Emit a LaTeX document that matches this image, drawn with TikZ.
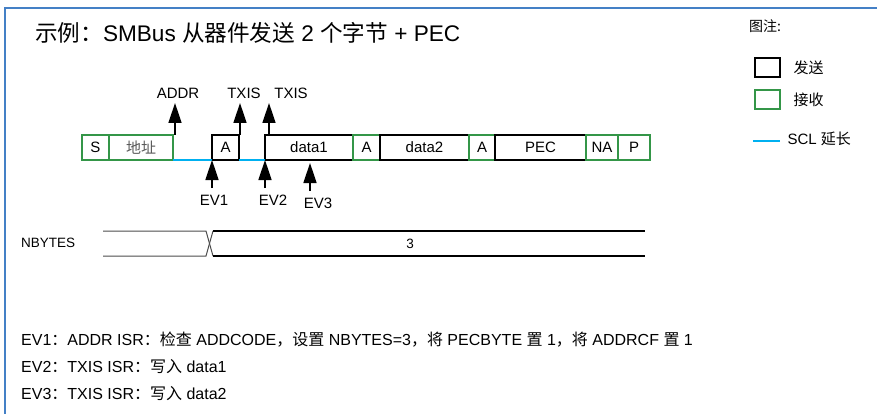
\documentclass[tikz,border=0pt]{standalone}
\usepackage{fontspec}
\setmainfont{Liberation Sans}
\newfontfamily\cjk{Noto Sans CJK SC}
\usetikzlibrary{positioning,arrows.meta}
\definecolor{rxgreen}{RGB}{52,150,72}
\definecolor{sclblue}{RGB}{0,176,240}
\definecolor{frameblue}{RGB}{68,128,198}
\begin{document}
\begin{tikzpicture}[
    x=1pt, y=1pt,
    font=\fontsize{15}{18}\selectfont,
    txbox/.style={rectangle, draw=black, line width=2pt, minimum height=25pt, outer sep=0pt, inner sep=0pt},
    rxbox/.style={rectangle, draw=rxgreen, line width=1.5pt, minimum height=25pt, outer sep=0pt, inner sep=0pt},
    stretch/.style={draw=sclblue, line width=1.5pt},
    sigarrow/.style={-{Triangle[width=13pt,length=20pt]}, line width=1.5pt},
    lbl/.style={inner sep=1pt},
    note/.style={anchor=west, inner sep=0pt, font=\fontsize{16}{18}\selectfont}
]
    \useasboundingbox (0,0) rectangle (877,-414);
    \draw[frameblue, line width=2pt] (5,-414) -- (5,-8) -- (877,-8);

    \node[anchor=west, inner sep=0pt, font=\fontsize{22.6}{26}\selectfont] (title) at (35,-33)
        {{\cjk 示例：}SMBus {\cjk 从器件发送} 2 {\cjk 个字节} + PEC};

    % frame on the bus
    \node[rxbox, minimum width=27pt, anchor=north west] (start) at (82,-135) {S};
    \node[rxbox, minimum width=64pt, right=0pt of start, text=black!65] (addrbox) {\cjk 地址};
    \node[txbox, minimum width=27pt, right=39pt of addrbox] (ack1) {A};
    \node[txbox, minimum width=88pt, right=26pt of ack1] (data1) {data1};
    \node[rxbox, minimum width=27pt, right=0pt of data1] (ack2) {A};
    \node[txbox, minimum width=89pt, right=0pt of ack2] (data2) {data2};
    \node[rxbox, minimum width=26pt, right=0pt of data2] (ack3) {A};
    \node[txbox, minimum width=91pt, right=0pt of ack3] (pec) {PEC};
    \node[rxbox, minimum width=32pt, right=0pt of pec] (nack) {NA};
    \node[rxbox, minimum width=32pt, right=0pt of nack] (stop) {P};

    \draw[stretch] (addrbox.south east) -- (ack1.south west);
    \draw[stretch] (ack1.south east) -- (data1.south west);

    % interrupts above
    \coordinate (addrtip) at (175,-103);
    \coordinate (txistip1) at (240,-103);
    \coordinate (txistip2) at (269,-103);
    \draw[sigarrow] (addrtip |- addrbox.north) -- (addrtip);
    \draw[sigarrow] (txistip1 |- ack1.north) -- (txistip1);
    \draw[sigarrow] (txistip2 |- data1.north) -- (txistip2);
    \node[lbl, anchor=south] (addr) at (178,-100) {ADDR};
    \node[lbl, anchor=south] (txis1) at (244,-100) {TXIS};
    \node[lbl, anchor=south] (txis2) at (291,-100) {TXIS};

    % events below
    \coordinate (ev1base) at (212,-188);
    \coordinate (ev2base) at (265,-188);
    \coordinate (ev3base) at (310,-191);
    \coordinate (ev3tip) at (310,-163);
    \draw[sigarrow] (ev1base) -- (ack1.south west);
    \draw[sigarrow] (ev2base) -- (data1.south west);
    \draw[sigarrow] (ev3base) -- (ev3tip);
    \node[lbl, anchor=north] (ev1) at (214,-194) {EV1};
    \node[lbl, anchor=north] (ev2) at (273,-194) {EV2};
    \node[lbl, anchor=north] (ev3) at (318,-197) {EV3};

    % NBYTES register
    \node[anchor=west, inner sep=0pt, font=\fontsize{13.5}{16}\selectfont] (nbytes) at (21,-243) {NBYTES};
    \draw[black!70, line width=1pt] (103,-231) -- (206,-231) -- (213,-256);
    \draw[black!70, line width=1pt] (103,-256) -- (206,-256) -- (213,-231);
    \draw[line width=1.6pt] (213,-231) -- (645,-231);
    \draw[line width=1.6pt] (213,-256) -- (645,-256);
    \node[font=\fontsize{13.5}{16}\selectfont] (nbval) at (410,-244) {3};

    % event notes
    \node[note] (note1) at (21,-340)
        {EV1{\cjk ：}ADDR ISR{\cjk ：检查} ADDCODE{\cjk ，设置} NBYTES=3{\cjk ，将} PECBYTE {\cjk 置} 1{\cjk ，将} ADDRCF {\cjk 置} 1};
    \node[note] (note2) at (21,-367) {EV2{\cjk ：}TXIS ISR{\cjk ：写入} data1};
    \node[note] (note3) at (21,-394) {EV3{\cjk ：}TXIS ISR{\cjk ：写入} data2};

    % legend
    \node[anchor=west, inner sep=0pt, font=\fontsize{14}{16}\selectfont] (legend) at (749,-26) {\cjk 图注:};
    \node[txbox, minimum width=25pt, minimum height=19pt] (legtx) at (767.5,-67.5) {};
    \node[rxbox, minimum width=25pt, minimum height=19pt] (legrx) at (767.5,-99.5) {};
    \node[right=10pt of legtx] (legtxlbl) {\cjk 发送};
    \node[right=10pt of legrx] (legrxlbl) {\cjk 接收};
    \coordinate (legscla) at (753,-141);
    \coordinate (legsclb) at (780,-141);
    \draw[stretch] (legscla) -- (legsclb);
    \node[right=4pt of legsclb, yshift=2pt] (legscllbl) {SCL {\cjk 延长}};
\end{tikzpicture}
\end{document}
